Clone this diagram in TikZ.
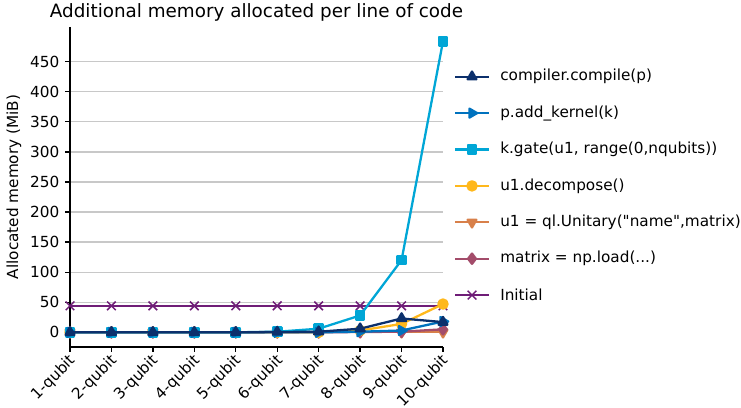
\documentclass[tikz,border=0pt]{standalone}
\usepackage{fontspec}
\setmainfont{DejaVu Sans}[Ligatures=TeXOff]
\usetikzlibrary{plotmarks}
\definecolor{cComp}{RGB}{12,48,108}
\definecolor{cKern}{RGB}{0,114,190}
\definecolor{cGate}{RGB}{0,166,214}
\definecolor{cDec}{RGB}{255,184,28}
\definecolor{cUni}{RGB}{216,128,74}
\definecolor{cMat}{RGB}{163,76,106}
\definecolor{cInit}{RGB}{111,29,119}
\definecolor{cGrid}{RGB}{200,200,200}
\tikzset{
  series/.style={line width=1.65pt, line join=round},
  gridline/.style={draw=cGrid, line width=0.9pt},
  spine/.style={draw=black, line width=0.9pt},
  ticklab/.style={font=\fontsize{11pt}{13pt}\selectfont, inner sep=0pt},
  leglab/.style={font=\fontsize{11pt}{13pt}\selectfont, anchor=west, inner sep=0pt},
  mComp/.style={mark=triangle*, mark size=3.7pt, mark options={solid, fill=cComp, draw=cComp}},
  mKern/.style={mark=triangle*, mark size=3.7pt, mark options={solid, rotate=-90, fill=cKern, draw=cKern}},
  mGate/.style={mark=square*, mark size=3pt, mark options={solid, fill=cGate, draw=cGate}},
  mDec/.style={mark=*, mark size=3.3pt, mark options={solid, fill=cDec, draw=cDec}},
  mUni/.style={mark=triangle*, mark size=3.7pt, mark options={solid, rotate=180, fill=cUni, draw=cUni}},
  mMat/.style={mark=diamond*, mark size=3.7pt, mark options={solid, fill=cMat, draw=cMat}},
  mInit/.style={mark=x, mark size=4.4pt, mark options={solid, line width=1.1pt, draw=cInit}},
}
\begin{document}
\begin{tikzpicture}[x=0.72pt, y=-0.72pt]
\useasboundingbox (0,0) rectangle (741,407);
% title
\node[font=\fontsize{13.2pt}{15pt}\selectfont, anchor=base, inner sep=0pt] (title) at (256.5,17.5) {Additional memory allocated per line of code};
% y label
\node[ticklab, rotate=90] (ylab) at (14,187) {Allocated memory (MiB)};
% plot area
\begin{scope}[shift={(50.4pt,-239.26pt)}, x={(29.84pt,0pt)}, y={(0pt,0.433pt)}]
  \foreach \v in {0,50,...,450} {
    \draw[gridline] (0,\v) -- (9,\v);
    \draw[spine] (0,\v) -- ++(-3.8pt,0);
    \node[ticklab, anchor=east] (yt\v) at ([xshift=-7.5pt]0,\v) {\v};
  }
  \foreach \i [count=\k from 0] in {1,...,10} {
    \draw[spine] (\k,-24.4) -- ++(0,-3.8pt);
    \node[ticklab, rotate=45, anchor=north east] (xt\i) at ([xshift=-1.5pt,yshift=-4.3pt]\k,-24.4) {\i-qubit};
  }
  \draw[spine] (0,508) -- (0,-24.4) -- (9,-24.4);
  % series (drawn bottom to top)
  \draw[series, cInit, mInit] plot coordinates {(0,44) (1,44) (2,44) (3,44) (4,44) (5,44) (6,44) (7,44) (8,44) (9,44)};
  \draw[series, cUni, mUni] plot coordinates {(0,0) (1,0) (2,0) (3,0) (4,0) (5,0) (6,0) (7,0) (8,0) (9,0)};
  \draw[series, cMat, mMat] plot coordinates {(0,0) (1,0) (2,0) (3,0) (4,0) (5,0) (6,0) (7,0.5) (8,1) (9,5)};
  \draw[series, cDec, mDec] plot coordinates {(0,0) (1,0) (2,0) (3,0) (4,0) (5,0) (6,0) (7,3) (8,14) (9,47)};
  \draw[series, cGate, mGate] plot coordinates {(0,0) (1,0) (2,0) (3,0) (4,0) (5,1) (6,6) (7,28) (8,120) (9,484)};
  \draw[series, cKern, mKern] plot coordinates {(0,0) (1,0) (2,0) (3,0) (4,0) (5,0) (6,0) (7,1) (8,3) (9,18)};
  \draw[series, cComp, mComp] plot coordinates {(0,0) (1,0) (2,0) (3,0) (4,0) (5,0.5) (6,1) (7,6) (8,23) (9,17)};
\end{scope}
% legend
\foreach \n/\c/\m/\t [count=\r from 0] in {
  comp/cComp/mComp/{compiler.compile(p)},
  kern/cKern/mKern/{p.add\_kernel(k)},
  gate/cGate/mGate/{k.gate(u1, range(0,nqubits))},
  dec/cDec/mDec/{u1.decompose()},
  uni/cUni/mUni/{u1 = ql.Unitary("name",matrix)},
  mat/cMat/mMat/{matrix = np.load(...)},
  init/cInit/mInit/{Initial}} {
  \draw[series, \c] (455,{76.7+36.4*\r}) -- (489,{76.7+36.4*\r});
  \draw[series, \c, \m] plot coordinates {(472,{76.7+36.4*\r})};
  \node[leglab] (leg\n) at (500,{76.7+36.4*\r}) {\t};
}
\end{tikzpicture}
\end{document}
